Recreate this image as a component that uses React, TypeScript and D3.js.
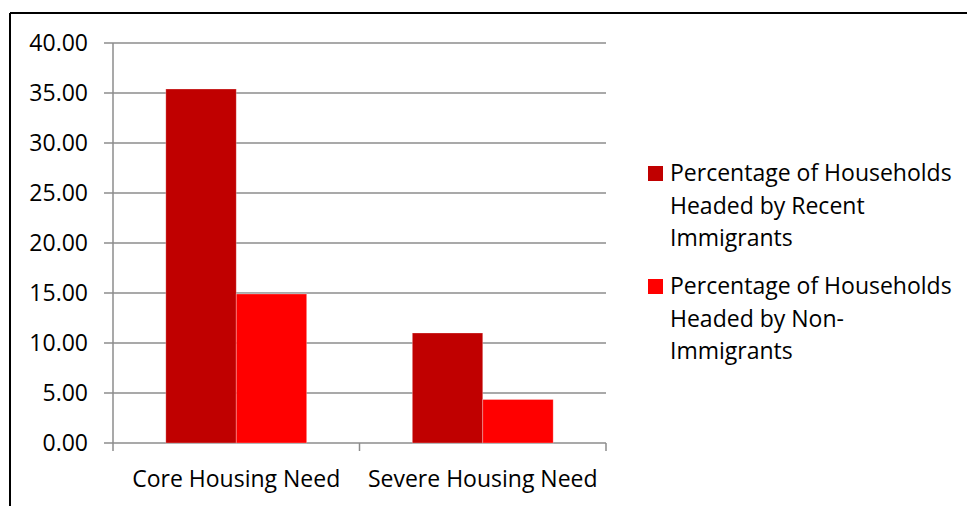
import React from "react";
import * as d3 from "d3";

const categories = ["Core Housing Need", "Severe Housing Need"];
const seriesNames = [
  ["Percentage of Households", "Headed by Recent", "Immigrants"],
  ["Percentage of Households", "Headed by Non-", "Immigrants"],
];
const recentImmigrants = [35.4, 11.0];
const nonImmigrants = [14.9, 4.35];
const yTicks = [0, 5, 10, 15, 20, 25, 30, 35, 40];
const colors = ["#C00000", "#FF0000"];

const W = 967;
const H = 506;
const FONT = "'Open Sans', sans-serif";
const FS = 23;

export default function App() {
  const left = 113;
  const right = 606;
  const top = 43;
  const bottom = 443;
  const y = d3.scaleLinear().domain([0, 40]).range([bottom, top]);
  const x0 = d3.scaleBand().domain(categories).range([left, right]).paddingInner(0).paddingOuter(0);
  const series = [recentImmigrants, nonImmigrants];
  const bw = x0.bandwidth() / 3.5;

  return (
    <svg width={W} height={H} style={{ position: "absolute", left: 0, top: 0, background: "#fff" }} fontFamily={FONT}>
      <rect x={0} y={0} width={W} height={H} fill="#fff" />
      {/* outer border */}
      <line x1={10} y1={13} x2={W} y2={13} stroke="#000" strokeWidth={2} />
      <line x1={10} y1={13} x2={10} y2={H} stroke="#000" strokeWidth={2} />
      {/* gridlines */}
      {yTicks.map((t) => (
        <line key={"g" + t} x1={104} x2={right} y1={y(t)} y2={y(t)} stroke="#8c8c8c" strokeWidth={1.5} />
      ))}
      {/* y axis */}
      <line x1={left} x2={left} y1={top} y2={bottom + 8} stroke="#8c8c8c" strokeWidth={1.5} />
      {categories.map((c, i) => (
        <line key={"t" + i} x1={x0(c)! + x0.bandwidth()} x2={x0(c)! + x0.bandwidth()} y1={bottom} y2={bottom + 8} stroke="#8c8c8c" strokeWidth={1.5} />
      ))}
      {/* y tick labels */}
      {yTicks.map((t) => (
        <text key={"l" + t} x={88} y={y(t)} dy="0.36em" textAnchor="end" fontSize={FS} fill="#000">
          {t.toFixed(2)}
        </text>
      ))}
      {/* bars */}
      {categories.map((c, i) =>
        series.map((s, j) => (
          <rect
            key={c + j}
            x={x0(c)! + 0.75 * bw + j * bw}
            y={y(s[i])}
            width={bw}
            height={bottom - y(s[i])}
            fill={colors[j]}
            stroke="rgba(255,255,255,0.35)"
            strokeWidth={0.8}
          />
        ))
      )}
      {/* category labels */}
      {categories.map((c) => (
        <text key={"c" + c} x={x0(c)! + x0.bandwidth() / 2} y={487} textAnchor="middle" fontSize={FS} fill="#000">
          {c}
        </text>
      ))}
      {/* legend */}
      {seriesNames.map((lines, j) => (
        <g key={"leg" + j} transform={`translate(0, ${j * 113})`}>
          <rect x={648} y={166} width={15} height={15} fill={colors[j]} />
          {lines.map((ln, k) => (
            <text key={k} x={670} y={181 + k * 32.5} fontSize={FS} fill="#000">
              {ln}
            </text>
          ))}
        </g>
      ))}
    </svg>
  );
}
